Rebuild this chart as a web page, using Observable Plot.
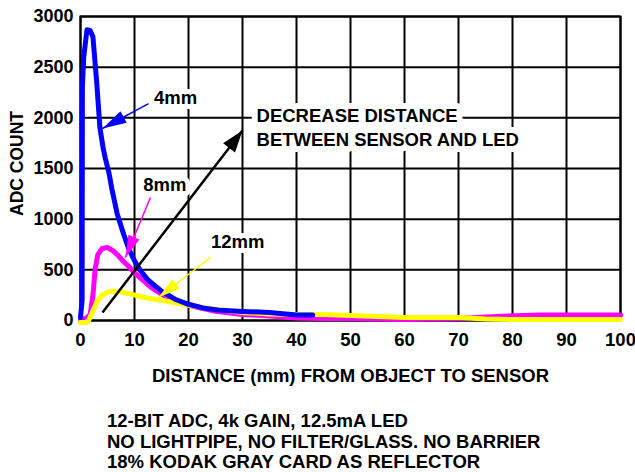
<!DOCTYPE html>
<html><head><meta charset="utf-8">
<script src="https://cdn.jsdelivr.net/npm/d3@7"></script>
<script src="https://cdn.jsdelivr.net/npm/@observablehq/plot@0.6"></script>
<style>
body{margin:0;background:#fff;font-family:"Liberation Sans",Arial,sans-serif;}
#wrap{position:relative;width:635px;height:472px;overflow:hidden;}
#footer{position:absolute;left:107px;top:411px;font-weight:bold;font-size:18.5px;line-height:20.5px;color:#000;white-space:nowrap;}
</style></head><body>
<div id="wrap"><div id="chart"></div><div id="footer"></div></div>
<script>
// Tick values
const xTicks = [0,10,20,30,40,50,60,70,80,90,100];
const yTicks = [0,500,1000,1500,2000,2500,3000];

// Series: [distance mm, ADC count]
const curve4mm = [[0,30],[0.3,200],[0.35,2300],[0.6,2600],[1.2,2870],[1.8,2860],[2.3,2800],[3.0,2350],[3.6,1900],[4.2,1700],[4.6,1600],[5.3,1450],[5.8,1300],[6.8,1050],[8,850],[9,700],[10,590],[11,500],[12.5,400],[15,290],[17.5,210],[20,160],[23,120],[26,100],[30,90],[35,80],[40,55],[43,55]];
const curve8mm = [[0,10],[1,20],[1.8,60],[2.3,250],[2.7,500],[3.2,650],[4,710],[5,720],[6,690],[7,640],[8,580],[9,530],[10,470],[11.5,400],[13,330],[15,260],[17.5,200],[20,150],[25,90],[30,60],[35,45],[40,25],[45,20],[50,20],[60,10],[70,20],[77,40],[85,55],[100,55]];
const curve12mm = [[0,-20],[1,-20],[1.5,0],[2,60],[3,180],[4,250],[5,280],[6,290],[7,285],[9,265],[12,225],[15,200],[20,150],[25,110],[30,80],[35,65],[40,60],[45,60],[50,50],[60,30],[70,30],[75,15],[80,10],[100,10]];

// Labels and annotation arrows (data coordinates)
const seriesLabels = [
  {x:17.6, y:2191, text:"4mm"},
  {x:15.6, y:1332, text:"8mm"},
  {x:29.1, y:770, text:"12mm"}
];
const noteText = "DECREASE DISTANCE\nBETWEEN SENSOR AND LED";
const noteAt = {x:32.6, y:1914};
const yLabelAt = 1550;
const pointers = [
  {x1:12.6, y1:2141, x2:4.07, y2:1895, color:"#0000ff", w:1.5, L:24, W:13},
  {x1:12.96, y1:1214, x2:8.33, y2:622, color:"#ff00ff", w:1.5, L:22, W:12},
  {x1:24.07, y1:622, x2:14.44, y2:227, color:"#ffff00", w:1.5, L:22, W:12}
];
const bigArrow = [{x1:4.07, y1:79, x2:30, y2:1875}];

const footerLines = ["12-BIT ADC, 4k GAIN, 12.5mA LED","NO LIGHTPIPE, NO FILTER/GLASS. NO BARRIER","18% KODAK GRAY CARD AS REFLECTOR"];

function filledHead(L, W) {
  return (color, context) => {
    const ns = "http://www.w3.org/2000/svg";
    const m = context.document.createElementNS(ns, "marker");
    m.setAttribute("viewBox", `${-L} ${-W/2} ${L} ${W}`);
    m.setAttribute("markerWidth", L);
    m.setAttribute("markerHeight", W);
    m.setAttribute("markerUnits", "userSpaceOnUse");
    m.setAttribute("orient", "auto");
    m.setAttribute("overflow", "visible");
    const p = context.document.createElementNS(ns, "path");
    p.setAttribute("d", `M${-L},${-W/2}L0,0L${-L},${W/2}Z`);
    p.setAttribute("fill", color);
    p.setAttribute("stroke", "none");
    m.appendChild(p);
    return m;
  };
}

const toObj = a => a.map(([x,y]) => ({x,y}));
const font = "'Liberation Sans', Arial, sans-serif";

const marks = [
  Plot.gridX(xTicks, {stroke:"black", strokeOpacity:1, strokeWidth:2}),
  Plot.gridY(yTicks, {stroke:"black", strokeOpacity:1, strokeWidth:2}),
  Plot.frame({stroke:"black", strokeWidth:2}),
  Plot.axisX(xTicks, {tickSize:0, tickPadding:12, fontSize:18.5, fontWeight:"bold", label:null, tickFormat:d3.format("d")}),
  Plot.axisY(yTicks, {tickSize:0, tickPadding:7, fontSize:18, fontWeight:"bold", label:null, tickFormat:d3.format("d")}),
  Plot.text(["DISTANCE (mm) FROM OBJECT TO SENSOR"], {frameAnchor:"bottom", lineAnchor:"middle", dy:56, fontSize:18.5, fontWeight:"bold", fill:"black"}),
  Plot.text(["ADC COUNT"], {y:() => yLabelAt, frameAnchor:"left", textAnchor:"middle", lineAnchor:"middle", dx:-63, rotate:-90, fontSize:17.5, fontWeight:"bold", fill:"black"}),
  Plot.text(seriesLabels, {x:"x", y:"y", text:"text", fontSize:18.5, fontWeight:"bold", fill:"black", stroke:"white", strokeWidth:10, paintOrder:"stroke"}),
  Plot.text([noteText], {x:()=>noteAt.x, y:()=>noteAt.y, textAnchor:"start", lineHeight:1.3, fontSize:18.5, fontWeight:"bold", fill:"black", stroke:"white", strokeWidth:12, paintOrder:"stroke"}),
  Plot.line(toObj(curve8mm), {x:"x", y:"y", stroke:"#ff00ff", strokeWidth:5, curve:"linear"}),
  Plot.line(toObj(curve12mm), {x:"x", y:"y", stroke:"#ffff00", strokeWidth:5, curve:"linear"}),
  Plot.line(toObj(curve4mm), {x:"x", y:"y", stroke:"#0000ff", strokeWidth:5, curve:"linear"}),
  ...pointers.map(p => Plot.link([p], {x1:"x1", y1:"y1", x2:"x2", y2:"y2", stroke:p.color, strokeWidth:p.w, markerEnd:filledHead(p.L, p.W)})),
  Plot.link(bigArrow, {x1:"x1", y1:"y1", x2:"x2", y2:"y2", stroke:"black", strokeWidth:2.5, markerEnd:filledHead(22, 15)})
];

const chart = Plot.plot({
  width:635, height:395,
  marginLeft:80, marginRight:15, marginTop:16, marginBottom:75,
  x:{domain:[0,100]},
  y:{domain:[0,3000]},
  style:{fontFamily:font, background:"white", overflow:"visible", color:"black"},
  marks
});
document.getElementById("chart").appendChild(chart);
document.getElementById("footer").innerHTML = footerLines.map(s => `<div>${s}</div>`).join("");
</script>
</body></html>
